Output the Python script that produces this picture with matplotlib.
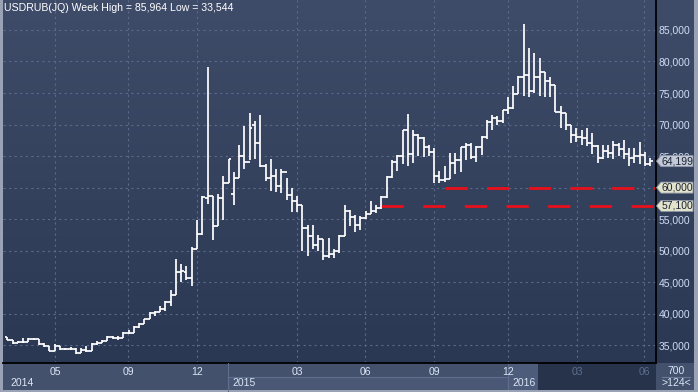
import numpy as np
import matplotlib.pyplot as plt
import matplotlib.transforms as mtransforms
from matplotlib.collections import LineCollection
from matplotlib.colors import LinearSegmentedColormap
from matplotlib.patches import Polygon, Rectangle

plt.rcParams['font.family'] = ['Liberation Sans', 'DejaVu Sans']

# weekly USDRUB bars
opens = [36.28, 35.85, 35.33, 35.59, 35.59, 36.06, 35.96, 35.22, 34.90, 34.10,
         34.90, 34.37, 34.37, 34.47, 33.74, 34.26, 34.16, 35.22, 35.42, 35.74,
         36.28, 36.17, 36.17, 37.02, 36.92, 37.87, 38.40, 39.14, 40.10, 40.35,
         40.73, 41.94, 43.00, 46.66, 46.66, 45.66, 50.30, 52.60, 58.30, 58.64,
         53.87, 58.40, 60.76, 59.00, 61.45, 65.00, 64.10, 70.00, 67.00, 63.50,
         61.60, 61.80, 60.30, 62.40, 58.90, 57.80, 57.30, 53.60, 52.30, 50.95,
         51.90, 49.10, 49.50, 49.90, 52.40, 56.25, 55.30, 54.10, 55.20, 55.80,
         56.25, 56.80, 58.50, 61.70, 64.00, 65.00, 69.10, 65.30, 68.40, 67.90,
         66.50, 65.60, 61.80, 61.20, 61.30, 63.90, 64.40, 66.40, 66.80, 64.90,
         66.40, 68.00, 70.40, 71.10, 70.60, 72.30, 72.70, 74.80, 77.60, 77.80,
         75.30, 77.50, 78.30, 76.90, 76.20, 72.00, 71.90, 69.90, 68.40, 68.00,
         67.90, 67.10, 66.60, 64.70, 65.80, 65.50, 66.70, 66.10, 65.30, 64.70,
         65.00, 65.10, 63.70]
highs = [36.30, 35.90, 35.70, 36.10, 36.10, 36.10, 36.00, 35.30, 34.90, 35.20,
         34.90, 34.60, 34.70, 34.50, 34.60, 34.90, 35.30, 35.60, 35.90, 36.40,
         36.40, 36.40, 37.10, 37.50, 38.00, 38.60, 39.20, 40.30, 40.50, 41.20,
         42.00, 43.80, 48.70, 47.90, 47.50, 50.60, 54.90, 58.60, 79.10, 58.75,
         59.06, 61.90, 64.47, 62.50, 66.70, 69.77, 71.80, 70.50, 71.50, 63.70,
         64.60, 63.00, 63.00, 61.50, 59.90, 58.75, 57.30, 54.10, 54.10, 52.50,
         51.90, 52.00, 50.30, 52.50, 57.30, 56.50, 55.60, 55.50, 56.25, 57.80,
         57.30, 58.75, 61.80, 64.30, 65.20, 69.20, 71.60, 69.20, 68.45, 68.00,
         66.80, 66.30, 62.60, 63.40, 65.50, 65.50, 66.50, 67.00, 67.00, 66.60,
         68.20, 70.80, 71.50, 71.30, 72.30, 74.30, 76.10, 77.70, 85.96, 82.10,
         81.40, 80.60, 78.30, 77.50, 76.20, 73.00, 71.90, 70.00, 69.40, 69.20,
         69.50, 68.70, 66.80, 66.80, 66.70, 67.40, 67.10, 67.60, 66.30, 66.30,
         67.20, 65.70, 64.70]
lows = [35.80, 35.20, 35.30, 35.40, 35.50, 35.80, 35.00, 34.80, 34.10, 34.10,
        34.30, 34.20, 34.20, 33.54, 33.70, 33.90, 34.10, 35.10, 35.30, 35.60,
        36.00, 35.90, 36.10, 36.80, 36.90, 37.80, 38.30, 39.10, 39.60, 40.20,
        40.40, 41.15, 43.00, 45.00, 45.30, 44.33, 50.27, 52.55, 57.48, 51.65,
        53.87, 54.82, 60.66, 57.20, 61.45, 62.88, 64.30, 64.50, 63.20, 61.00,
        59.40, 59.30, 59.20, 58.00, 56.10, 56.10, 49.90, 49.20, 50.20, 49.90,
        48.60, 48.80, 48.80, 49.70, 52.30, 53.90, 52.90, 53.30, 55.00, 55.80,
        56.00, 56.60, 58.40, 61.50, 62.60, 63.70, 63.50, 63.90, 65.00, 64.90,
        65.00, 60.80, 60.80, 60.90, 61.30, 62.20, 62.40, 64.30, 64.60, 64.00,
        65.20, 67.70, 69.20, 70.00, 70.30, 71.60, 72.40, 74.80, 74.50, 74.40,
        75.00, 74.50, 74.40, 74.40, 72.00, 69.50, 69.20, 67.10, 67.30, 66.80,
        66.60, 65.30, 63.90, 64.50, 64.70, 64.50, 65.00, 64.50, 63.40, 63.90,
        63.80, 63.40, 63.40]
closes = [35.85, 35.33, 35.59, 35.59, 36.06, 35.96, 35.22, 34.90, 34.10, 34.90,
          34.37, 34.37, 34.47, 33.74, 34.26, 34.16, 35.22, 35.42, 35.74, 36.28,
          36.17, 36.17, 37.02, 36.92, 37.87, 38.40, 39.14, 40.10, 40.35, 40.73,
          41.94, 43.00, 46.66, 46.80, 45.66, 50.30, 52.70, 58.45, 58.64, 53.87,
          58.40, 60.76, 64.47, 61.45, 65.00, 64.10, 69.50, 67.00, 63.50, 61.60,
          61.80, 60.30, 62.40, 58.90, 57.80, 57.30, 53.60, 52.30, 50.95, 51.90,
          49.10, 49.50, 49.90, 52.40, 56.25, 55.30, 54.10, 55.20, 55.80, 56.25,
          56.80, 58.50, 61.70, 64.00, 65.00, 69.10, 65.30, 68.40, 67.90, 66.50,
          65.60, 61.80, 61.20, 61.30, 63.90, 64.40, 66.40, 66.80, 64.90, 66.40,
          68.00, 70.40, 71.10, 70.60, 72.30, 72.70, 74.80, 77.60, 77.80, 75.30,
          77.50, 78.30, 76.90, 76.20, 72.00, 71.90, 69.90, 68.40, 68.00, 67.90,
          67.10, 66.60, 64.70, 65.80, 65.50, 66.70, 66.10, 65.30, 64.70, 65.00,
          65.10, 63.70, 64.199]

price_ticks = [35, 40, 45, 50, 55, 60, 65, 70, 75, 80, 85]
month_ticks = [9.05, 22.9, 36.0, 55.0, 67.9, 81.0, 95.0, 108.1, 120.8]
month_labels = ['05', '09', '12', '03', '06', '09', '12', '03', '06']
year_labels = ['2014', '2015', '2016']
levels = [60.0, 57.1]
level_start = [83, 71]
title = 'USDRUB(JQ) Week High = 85,964 Low = 33,544'

W, H = 698, 392


def box(x0, y0, x1, y1):
    return [x0 / W, 1 - y1 / H, (x1 - x0) / W, (y1 - y0) / H]


def fmt(v):
    return f'{v:.3f}'.replace('.', ',')


fig = plt.figure(figsize=(W / 100, H / 100), dpi=100)
fig.patch.set_facecolor('#44516c')

grad = LinearSegmentedColormap.from_list('bg', ['#2b3853', '#3f4c69'])
ylim = (32.19, 89.75)
xlim = (-0.82, 123.1)

side = fig.add_axes(box(656, 0, 694, 363))
side.imshow(np.linspace(0, 1, 256).reshape(-1, 1), cmap=grad, origin='lower',
            aspect='auto', extent=[0, 1, 0, 1])
side.set_axis_off()

ax = fig.add_axes(box(3, 0, 656, 363))
ax.set_zorder(2)
ax.patch.set_visible(False)
ax.imshow(np.linspace(0, 1, 256).reshape(-1, 1), cmap=grad, origin='lower',
          aspect='auto', extent=[xlim[0], xlim[1], ylim[0], ylim[1]], zorder=0)
ax.set_xlim(*xlim)
ax.set_ylim(*ylim)

# dotted grid
for t in price_ticks:
    ax.axhline(t, color='#5a6a89', lw=0.8, dashes=(2, 3), zorder=1)
for m in month_ticks:
    ax.axvline(m, color='#5a6a89', lw=0.8, dashes=(2, 3), zorder=1)

# OHLC bars
segs = []
for i, (o, h, l, c) in enumerate(zip(opens, highs, lows, closes)):
    segs.append([(i, l), (i, h)])
    segs.append([(i - 0.5, o), (i, o)])
    segs.append([(i, c), (i + 0.5, c)])
ax.add_collection(LineCollection(segs, colors='white', linewidths=1.25,
                                 capstyle='butt', zorder=3))

for lv, st in zip(levels, level_start):
    ax.plot([st, xlim[1]], [lv, lv], color='#e8101a', lw=2, dashes=(8, 7),
            zorder=2)

# tick labels that sit fully under a level tag are left blank
ax.yaxis.tick_right()
ax.set_yticks(price_ticks)
ax.set_yticklabels(['' if t in levels else fmt(t) for t in price_ticks])
ax.tick_params(axis='y', length=0, pad=2, labelsize=7.5, labelcolor='#cfdcf2')
ax.set_xticks([])
for s in ['top', 'left']:
    ax.spines[s].set_visible(False)
ax.spines['right'].set_color('black')
ax.spines['bottom'].set_color('black')
ax.spines['right'].set_linewidth(1.3)
ax.spines['bottom'].set_linewidth(1.3)

ax.text(0.002, 0.993, title, transform=ax.transAxes, ha='left', va='top',
        color='white', fontsize=7.6, zorder=6)

# price tags on the right axis
tr = mtransforms.blended_transform_factory(fig.transFigure, ax.transData)
hh = 5.5 / 363 * (ylim[1] - ylim[0])
tags = [(closes[-1], '#c3c9d6'), (levels[0], '#e3e3cb'), (levels[1], '#e3e3cb')]
for v, fc in tags:
    pts = [(656.5 / W, v), (661 / W, v + hh), (693 / W, v + hh),
           (693 / W, v - hh), (661 / W, v - hh)]
    ax.add_patch(Polygon(pts, closed=True, transform=tr, facecolor=fc,
                         edgecolor='#8d96a8', lw=0.6, clip_on=False, zorder=5))
    ax.text(662 / W, v, fmt(v), transform=tr, ha='left', va='center',
            fontsize=7.5, color='#1b2435', zorder=6, clip_on=False)

# date band
fig.patches.append(Rectangle((228 / W, 0), (508 - 228) / W, 15 / H,
                             transform=fig.transFigure, facecolor='#4a5876',
                             edgecolor='#5f6e8c', lw=0.8))
fig.patches.append(Rectangle((508 / W, 0), 30 / W, 29 / H,
                             transform=fig.transFigure, facecolor='#4d5c7b',
                             edgecolor='#5f6e8c', lw=0.8))
fig.patches.append(Rectangle((538 / W, 0), 118 / W, 29 / H,
                             transform=fig.transFigure, facecolor='#27334b',
                             edgecolor='none'))
fig.patches.append(Rectangle((656 / W, 0), 38 / W, 29 / H,
                             transform=fig.transFigure, facecolor='#44516c',
                             edgecolor='none'))
fig.lines.append(plt.Line2D([228 / W, 228 / W], [0, 29 / H],
                            transform=fig.transFigure, color='#5f6e8c', lw=0.8))
fig.lines.append(plt.Line2D([662 / W, 690 / W], [15 / H, 15 / H],
                            transform=fig.transFigure, color='#6b7996', lw=0.8))

dt = mtransforms.blended_transform_factory(ax.transData, fig.transFigure)
for m, lab in zip(month_ticks, month_labels):
    col = '#5d6d8c' if m > 104 else '#dbe5f5'
    fig.text(m, 1 - 372 / H, lab, transform=dt, ha='center', va='center',
             fontsize=7.5, color=col)
for x, lab in zip([10, 232, 512], year_labels):
    fig.text(x / W, 1 - 383 / H, lab, ha='left', va='center', fontsize=7.5,
             color='#dbe5f5')
fig.text(676 / W, 1 - 371 / H, '700', ha='center', va='center', fontsize=7.5,
         color='#dbe5f5')
fig.text(676 / W, 1 - 383 / H, '>124<', ha='center', va='center',
         fontsize=7.5, color='#dbe5f5')

# light outer frame
for r in [(0, 0, 3, 392), (694, 0, 698, 392), (0, 390, 698, 392)]:
    fig.patches.append(Rectangle((r[0] / W, 1 - r[3] / H), (r[2] - r[0]) / W,
                                 (r[3] - r[1]) / H, transform=fig.transFigure,
                                 facecolor='#9aa3b5', edgecolor='none'))

fig.savefig('out.png', dpi=100)
